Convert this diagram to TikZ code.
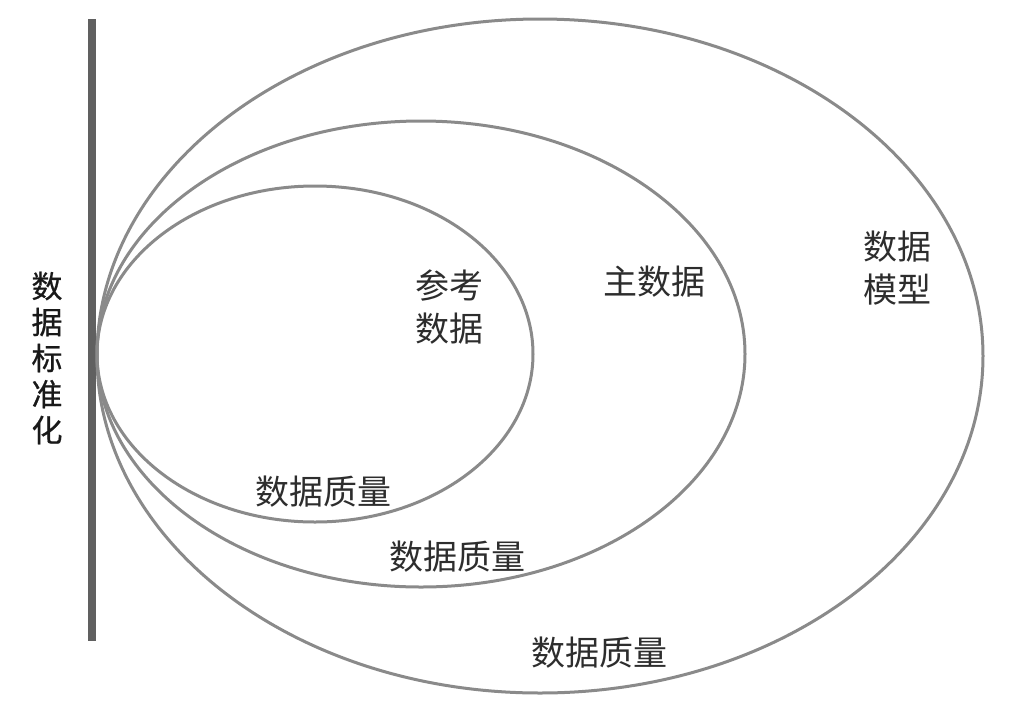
\documentclass[tikz,border=0pt]{standalone}
\usepackage{fontspec}
\newfontfamily\cjk{Noto Sans CJK SC}
\newfontfamily\cjkbar[FakeBold=0.6]{Noto Sans CJK SC}
\usepackage{tikz}

\begin{document}
\begin{tikzpicture}[x=0.5pt, y=-0.5pt, line join=round, line cap=round,
        ring/.style={ringcolor, line width=1.5pt},
        tag/.style={inner sep=0pt, align=center, text=tagcolor, font=\cjk\fontsize{17}{21.5}\selectfont}]
        \definecolor{ringcolor}{RGB}{138,138,138}
        \definecolor{barcolor}{RGB}{96,96,96}
        \definecolor{tagcolor}{RGB}{45,45,45}

        \useasboundingbox (0,0) rectangle (1024,708);

        \draw[barcolor, line width=4pt, line cap=butt] (91.5,19) -- (91.5,641);
        \draw[ring] (315,354) ellipse [x radius=218, y radius=168];
        \draw[ring] (421,354) ellipse [x radius=324, y radius=233];
        \draw[ring] (540,356) ellipse [x radius=443, y radius=337];

        \node[tag, text=black!90, font=\cjkbar\fontsize{15.5}{18}\selectfont] (std) at (47,358) {数\\据\\标\\准\\化};
        \node[tag] (ref) at (449,307) {参考\\数据};
        \node[tag] (master) at (654,282) {主数据};
        \node[tag] (model) at (897,268) {数据\\模型};
        \node[tag] (qa) at (323,492) {数据质量};
        \node[tag] (qb) at (457,557) {数据质量};
        \node[tag] (qc) at (599,653) {数据质量};
    \end{tikzpicture}
\end{document}
